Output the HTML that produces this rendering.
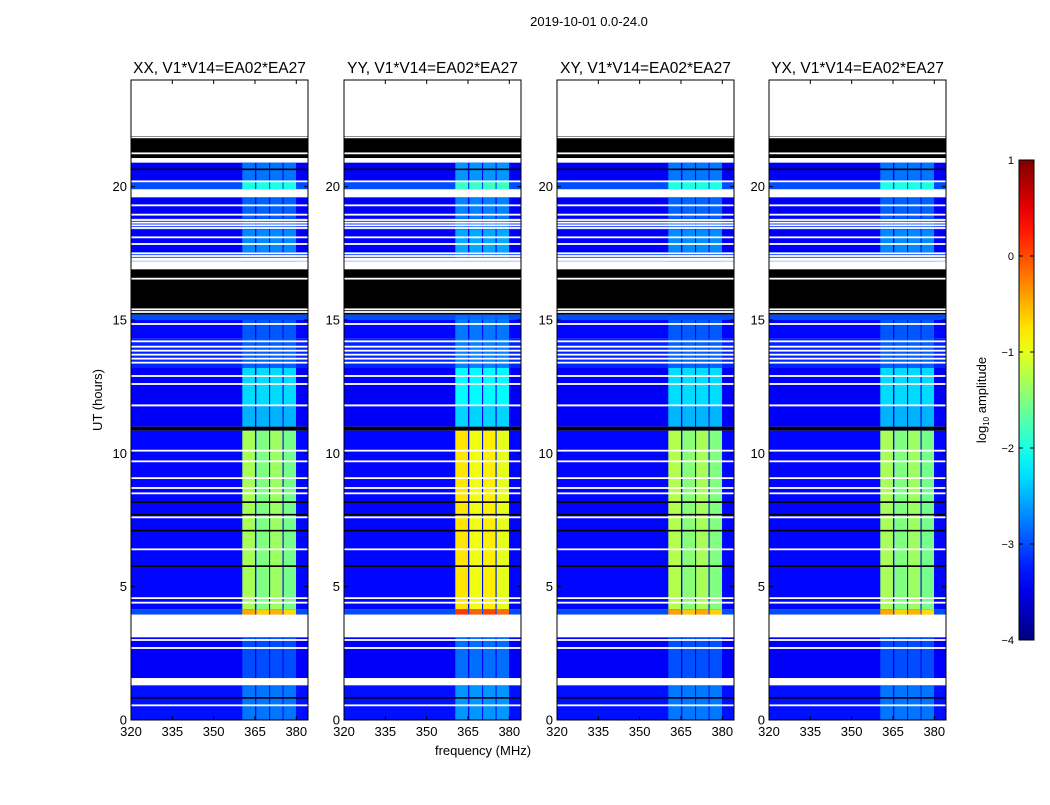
<!DOCTYPE html>
<html><head><meta charset="utf-8"><style>
body{margin:0;background:#fff;}
svg text{font-family:"Liberation Sans","DejaVu Sans",sans-serif;fill:#000;}
</style></head><body>
<svg id="chart" width="1050" height="800" viewBox="0 0 1050 800" xmlns="http://www.w3.org/2000/svg">
<rect width="1050" height="800" fill="#fff"/>
<text x="589" y="26" font-size="13" text-anchor="middle">2019-10-01 0.0-24.0</text>
<text transform="translate(102,400) rotate(-90)" font-size="13" text-anchor="middle">UT (hours)</text>
<text x="483" y="755" font-size="13" text-anchor="middle">frequency (MHz)</text>
<g id="panels"></g>
<g id="cbar"></g>
</svg>
<script>
// ---- data ----
const panelTitles = ["XX, V1*V14=EA02*EA27","YY, V1*V14=EA02*EA27","XY, V1*V14=EA02*EA27","YX, V1*V14=EA02*EA27"];
const panelRfiOffset = [0, 0.55, 0.05, 0.0];
const segStart = [21.9,21.07,20.9,20.2,19.9,19.6,18.8,18.4,17.55,17.2,16.9,15.45,15.2,15.0,14.3,13.2,11.75,11.0,10.85,4.15,3.95,3.1,1.57,1.3,0.0];
const segEnd   = [24.0,21.9,21.07,20.9,20.2,19.9,19.6,18.8,18.4,17.55,17.2,16.9,15.45,15.2,15.0,14.3,13.2,11.75,11.0,10.85,4.15,3.95,3.1,1.57,1.3];
const segKind  = ["w","k","w","d","d","w","d","d","d","d","w","k","k","d","d","d","d","d","k","d","d","w","d","w","d"];
const segBg    = [0,0,0,-3.4,-3.0,0,-3.4,-3.2,-3.4,-3.1,0,0,0,-3.0,-3.35,-3.2,-3.4,-3.4,0,-3.35,-3.0,0,-3.4,0,-3.3];
const segRfi   = [0,0,0,-2.8,-2.0,0,-2.9,-3.0,-2.7,-3.0,0,0,0,-3.0,-2.95,-2.9,-2.3,-2.5,0,-1.45,-0.6,0,-3.0,0,-2.8];
const bandLo = [360.4,365.5,370.5,375.4];
const bandHi = [365.0,370.1,375.0,379.9];
const bandGain = [0.15,-0.05,0.1,-0.1];
const whiteLines = [21.85,21.25,20.2,19.3,18.95,18.75,18.65,18.55,18.45,18.1,17.85,17.5,17.4,17.3,17.25,16.55,15.4,15.3,14.85,14.2,14.0,13.85,13.7,13.55,13.4,12.9,12.6,11.8,10.1,9.7,9.07,8.7,8.5,7.6,6.4,4.57,4.4,3.0,2.7,0.55];
const blackLines = [20.65,8.17,7.7,7.1,5.77,0.83];
const yTicks = [0,5,10,15,20];
const xTicks = [320,335,350,365,380];
const cbarTicks = [1,0,-1,-2,-3,-4];

// ---- geometry ----
const panelLeft = [131,344,557,769];
const PW=177, PT=80, PH=640;
const fMin=320, fMax=384.25, tMax=24;
function xs(p,f){return panelLeft[p]+(f-fMin)/(fMax-fMin)*PW;}
function ys(h){return PT+PH-(h/tMax)*PH;}
function jet(v){
  let t=Math.max(0,Math.min(1,(v+4)/5));
  const r=Math.max(0,Math.min(1,1.5-Math.abs(4*t-3)));
  const g=Math.max(0,Math.min(1,1.5-Math.abs(4*t-2)));
  const b=Math.max(0,Math.min(1,1.5-Math.abs(4*t-1)));
  return `rgb(${Math.round(r*255)},${Math.round(g*255)},${Math.round(b*255)})`;
}
const NS="http://www.w3.org/2000/svg";
function mk(tag,attrs,parent){const e=document.createElementNS(NS,tag);for(const k in attrs)e.setAttribute(k,attrs[k]);parent.appendChild(e);return e;}
const G=document.getElementById('panels');
for(let p=0;p<4;p++){
  const g=mk('g',{},G);
  
  
  const L=panelLeft[p];
  for(let i=0;i<segStart.length;i++){
    const y1=ys(segEnd[i]), y2=ys(segStart[i]);
    const k=segKind[i];
    const fill = k==='w'?'#fff':k==='k'?'#000':jet(segBg[i]);
    const r=mk('rect',{x:L,y:y1,width:PW,height:y2-y1,fill:fill},g);
    
    
    if(k==='d'){
      const strong = segRfi[i]>-1.8;
      const off = panelRfiOffset[p]*(strong?1:0.3);
      for(let b=0;b<bandLo.length;b++){
        const x1=xs(p,bandLo[b]), x2=xs(p,bandHi[b]);
        const c=mk('rect',{x:x1,y:y1,width:x2-x1,height:y2-y1,fill:jet(segRfi[i]+off+(strong?bandGain[b]:0))},g);
        
        
      }
    }
  }
  for(const h of whiteLines){
    const l=mk('rect',{x:L,y:ys(h)-0.9,width:PW,height:1.8,fill:'#fff'},g);
    
    
  }
  for(const h of blackLines){
    const l=mk('rect',{x:L,y:ys(h)-0.8,width:PW,height:1.6,fill:'#000'},g);
    
    
  }
  const fr=mk('rect',{x:L,y:PT,width:PW,height:PH,fill:'none',stroke:'#000','stroke-width':1},g);
  
  
  const tt=mk('text',{x:L+PW/2,y:PT-7,'font-size':15.5,'text-anchor':'middle'},g);
  tt.textContent=panelTitles[p];
  
  
  for(const t of yTicks){
    const y=ys(t);
    mk('line',{x1:L,x2:L+4,y1:y,y2:y,stroke:'#000'},g);
    mk('line',{x1:L+PW-4,x2:L+PW,y1:y,y2:y,stroke:'#000'},g);
    const tx=mk('text',{x:L-4,y:y+4.5,'font-size':13,'text-anchor':'end'},g);
    tx.textContent=t;
    
    
  }
  for(const t of xTicks){
    const x=xs(p,t);
    mk('line',{x1:x,x2:x,y1:PT,y2:PT+4,stroke:'#000'},g);
    mk('line',{x1:x,x2:x,y1:PT+PH-4,y2:PT+PH,stroke:'#000'},g);
    const tx=mk('text',{x:x,y:PT+PH+16,'font-size':13,'text-anchor':'middle'},g);
    tx.textContent=t;
    
    
  }
}
// colorbar
const C=document.getElementById('cbar');


const defs=mk('defs',{},C);
const grad=mk('linearGradient',{id:'jetg',x1:0,y1:1,x2:0,y2:0},defs);
for(let i=0;i<=20;i++){mk('stop',{offset:(i/20),'stop-color':jet(-4+5*i/20)},grad);}
const CX=1019,CW=15,CT=160,CH=480;
mk('rect',{x:CX,y:CT,width:CW,height:CH,fill:'url(#jetg)',stroke:'#000','stroke-width':1},C);
for(const t of cbarTicks){
  const y=CT+(1-t)/5*CH;
  mk('line',{x1:CX,x2:CX+4,y1:y,y2:y,stroke:'#000'},C);
  mk('line',{x1:CX+CW-4,x2:CX+CW,y1:y,y2:y,stroke:'#000'},C);
  const tx=mk('text',{x:CX-5,y:y+4,'font-size':11,'text-anchor':'end'},C);
  tx.textContent=(t<0?'\u2212'+(-t):t);
  
  
}
const cl=mk('text',{transform:'translate(986,400) rotate(-90)','font-size':13,'text-anchor':'middle'},C);
cl.innerHTML='log<tspan font-size="8" dy="3">10</tspan><tspan dy="-3"> amplitude</tspan>';


</script>
</body></html>
